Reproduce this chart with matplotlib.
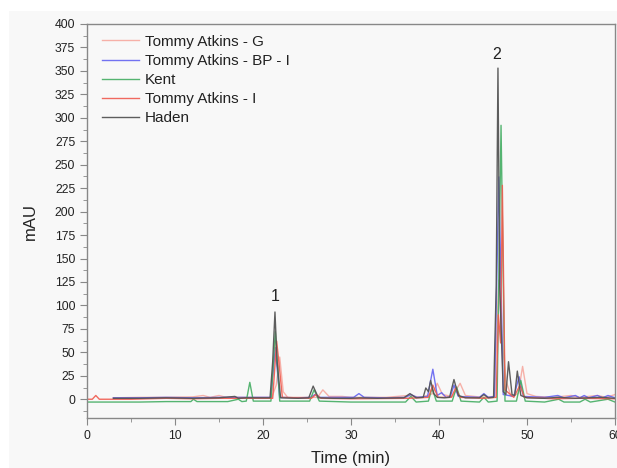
import numpy as np
import matplotlib
matplotlib.use('Agg')
import matplotlib.pyplot as plt
from matplotlib.patches import Rectangle
from matplotlib.ticker import MultipleLocator

plt.rcParams['font.family'] = ['Liberation Sans', 'DejaVu Sans']

# Chromatogram traces: (time in min, mAU)
tommy_g = [(3, 1.5), (6, 2), (9, 2), (12, 2.5), (13.2, 4), (14, 2), (15, 4), (15.8, 2),
           (18, 2), (21.0, 2), (21.5, 15), (21.9, 45), (22.3, 8), (22.8, 2), (26.2, 2),
           (26.8, 10), (27.5, 3), (29, 3), (30, 2), (34, 2), (36.5, 4), (38, 2), (39.3, 6),
           (39.8, 17), (40.4, 5), (41.5, 3), (42.4, 17), (43, 4), (45, 2), (46.3, 3),
           (46.8, 127), (47.2, 60), (47.6, 20), (48.2, 3), (49.0, 6), (49.5, 35), (50.0, 6),
           (51, 3), (53, 2), (55, 4), (56, 2), (58, 4), (59, 2), (60, 5)]
tommy_bp = [(3, 1.5), (6, 1.5), (9, 2), (12, 1.5), (15, 2), (18, 2), (20.9, 2),
            (21.4, 55), (21.9, 2), (24, 1.5), (25.4, 2), (25.9, 5), (26.5, 2), (30.3, 2),
            (30.9, 6), (31.5, 2), (34, 1.5), (36.2, 2), (36.8, 5), (37.5, 2), (38.7, 3),
            (39.3, 32), (39.8, 4), (40.3, 7), (40.8, 2), (41.3, 3), (41.7, 15), (42.2, 3),
            (44.6, 2), (45.1, 6), (45.6, 2), (46.3, 3), (46.8, 237), (47.3, 5), (48.5, 3),
            (49.1, 24), (49.6, 3), (52, 2), (53.5, 4), (54.2, 1.5), (55.5, 4), (56, 1.5),
            (56.5, 4), (57, 1.5), (58, 4), (58.6, 1.5), (59.2, 4), (60, 1.5)]
kent = [(0, -3), (3, -3), (6, -3), (9, -2.5), (11.8, -2.5), (12.1, 0), (12.5, -2.5),
        (16, -2.5), (17.2, 0), (17.6, -2.5), (18.1, -2), (18.5, 18), (18.9, -2),
        (20.9, -2), (21.4, 72), (21.9, -2), (25.3, -2), (25.8, 10), (26.4, -2), (30, -3),
        (36.2, -3), (36.8, 3), (37.4, -3), (38.8, -2), (39.2, 12), (39.7, -2), (41.5, -2),
        (42.0, 13), (42.5, -2), (44.6, -3), (45.1, 2), (45.6, -3), (46.6, -2),
        (47.05, 292), (47.5, -2), (48.8, -2), (49.3, 20), (49.8, -2), (52, -3),
        (53.6, 0), (54.2, -3), (56, -3), (56.6, 0), (57.2, -3), (59.2, 0), (60, -3)]
tommy_i = [(0, 0), (0.6, 0), (1.0, 4), (1.4, 0), (5, 0), (9, 1), (12, 0.5), (15, 1),
           (18, 1), (21.1, 1), (21.55, 62), (21.8, 40), (22.2, 2), (25.5, 1), (26.0, 5),
           (26.6, 1), (30, 0.5), (36.5, 1), (38.8, 2), (39.3, 15), (39.9, 2), (41.4, 2),
           (41.9, 12), (42.4, 2), (45, 1), (46.5, 2), (46.75, 90), (47.0, 60), (47.2, 228),
           (47.5, 10), (48.5, 2), (49.2, 15), (49.7, 2), (53, 0.5), (56, 1), (60, 0.5)]
haden = [(3, 1), (6, 1), (9, 1.5), (12, 1), (15, 1.5), (16.8, 3), (17.2, 1), (18, 1.5),
         (20.8, 1.5), (21.1, 40), (21.36, 93), (21.6, 40), (22.0, 1.5), (24, 1),
         (25.2, 1.5), (25.7, 14), (26.3, 1.5), (28, 1), (30, 1), (31, 1.5), (33, 1),
         (36, 1.5), (36.7, 6), (37.4, 1.5), (38.2, 2), (38.5, 12), (38.8, 8), (39.05, 20),
         (39.4, 6), (39.8, 2), (40.6, 1.5), (41.2, 2), (41.7, 21), (42.2, 4), (43, 1.5),
         (44.6, 1.5), (45.1, 5), (45.6, 1.5), (46.2, 2), (46.5, 120), (46.7, 353),
         (46.9, 120), (47.3, 8), (47.6, 5), (47.9, 40), (48.3, 5), (48.6, 4), (48.9, 30),
         (49.3, 4), (50, 1.5), (52, 1), (53.5, 2), (55.5, 1), (57, 1.5), (58.5, 2), (60, 1)]

series = [('Tommy Atkins - G', tommy_g, '#f6a9a0', 0.9),
          ('Tommy Atkins - BP - I', tommy_bp, '#5b5bf0', 0.85),
          ('Kent', kent, '#43ad62', 0.9),
          ('Tommy Atkins - I', tommy_i, '#f05a4e', 0.9),
          ('Haden', haden, '#555555', 0.95)]

peak_labels = ['1', '2']
peak_label_pos = [(21.4, 101), (46.6, 360)]

bg = '#f8f8f8'
fig = plt.figure(figsize=(6.17, 4.68), dpi=100)
fig.patches.append(Rectangle((9 / 617, 0), 1, 1 - 11 / 468, transform=fig.transFigure,
                             facecolor=bg, edgecolor='none', zorder=-10))
ax = fig.add_axes([87 / 617, 1 - 418 / 468, (615 - 87) / 617, (418 - 24) / 468])
ax.set_facecolor(bg)

for name, pts, color, alpha in series:
    t, v = np.array(pts).T
    ax.plot(t, v, color=color, lw=1.0, alpha=alpha, label=name)

for lab, (x, y) in zip(peak_labels, peak_label_pos):
    ax.text(x, y, lab, ha='center', va='bottom', fontsize=11.5, color='#222222')

ax.set_xlim(0, 60)
ax.set_ylim(-20, 400)
ax.xaxis.set_major_locator(MultipleLocator(10))
ax.xaxis.set_minor_locator(MultipleLocator(5))
ax.yaxis.set_major_locator(MultipleLocator(25))
ax.yaxis.set_minor_locator(MultipleLocator(12.5))
ax.tick_params(which='major', direction='out', length=5, color='#888888',
               labelsize=8.8, labelcolor='#222222')
ax.tick_params(which='minor', direction='out', length=3, color='#888888')
for s in ax.spines.values():
    s.set_color('#888888')
    s.set_linewidth(1.0)

ax.set_xlabel('Time (min)', fontsize=12, color='#222222')
ax.xaxis.set_label_coords(0.5, -0.083)
ax.set_ylabel('mAU', fontsize=12, color='#222222', labelpad=12)

leg = ax.legend(loc='upper left', frameon=False, fontsize=11, handlelength=2.4,
                handletextpad=0.4, labelspacing=0.34, borderaxespad=0.3,
                bbox_to_anchor=(0.008, 1.0))
for txt in leg.get_texts():
    txt.set_color('#222222')

fig.savefig('out.png', dpi=100, facecolor='white')
